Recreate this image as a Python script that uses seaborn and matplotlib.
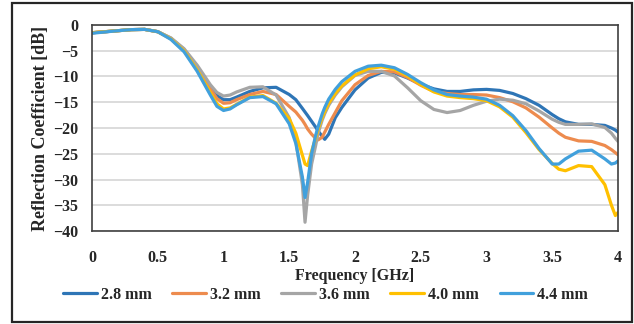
import matplotlib
matplotlib.use("Agg")
import matplotlib.pyplot as plt
from matplotlib.patches import Rectangle
import pandas as pd
import seaborn as sns

# Frequency sampling points [GHz]
freq = [0.0, 0.1, 0.2, 0.3, 0.4, 0.5, 0.6, 0.7, 0.8, 0.85, 0.9, 0.95, 1.0, 1.05,
        1.1, 1.2, 1.3, 1.4, 1.5, 1.55, 1.6, 1.62, 1.64, 1.67, 1.7, 1.72, 1.75,
        1.77, 1.8, 1.85, 1.9, 2.0, 2.1, 2.2, 2.3, 2.4, 2.5, 2.6, 2.7, 2.8, 2.9,
        3.0, 3.1, 3.2, 3.3, 3.4, 3.5, 3.55, 3.6, 3.7, 3.8, 3.9, 3.95, 3.98, 4.0]

# Reflection coefficient [dB] for each substrate thickness
s11_28 = [-1.5, -1.3, -1.1, -0.9, -0.85, -1.3, -2.6, -4.8, -8.2, -10.1, -12.0, -13.7,
          -14.5, -14.5, -14.0, -12.9, -12.2, -12.1, -13.5, -14.5, -16.2, -16.9, -17.6,
          -18.7, -19.8, -20.6, -21.6, -22.2, -21.2, -18.0, -16.0, -12.6, -10.3, -9.2,
          -9.3, -10.3, -11.5, -12.4, -12.9, -12.9, -12.6, -12.5, -12.7, -13.3, -14.3,
          -15.6, -17.4, -18.2, -18.8, -19.3, -19.3, -19.5, -20.0, -20.4, -20.8]
s11_32 = [-1.5, -1.3, -1.1, -0.9, -0.85, -1.3, -2.6, -4.8, -8.3, -10.4, -12.4, -14.3,
          -15.2, -15.1, -14.5, -13.5, -12.9, -13.5, -15.8, -16.9, -18.5, -19.3, -20.2,
          -21.2, -22.0, -22.3, -21.8, -20.8, -19.3, -17.0, -14.7, -11.6, -9.8, -9.0,
          -9.1, -10.2, -11.7, -12.9, -13.3, -13.5, -13.5, -13.6, -14.1, -14.9, -16.1,
          -17.9, -20.0, -21.0, -21.8, -22.5, -22.6, -23.4, -24.2, -24.8, -25.2]
s11_36 = [-1.5, -1.3, -1.1, -0.9, -0.85, -1.3, -2.5, -4.6, -7.8, -9.7, -11.6, -13.1,
          -13.8, -13.6, -13.0, -12.1, -12.0, -13.6, -18.0, -22.5, -31.0, -38.3, -33.0,
          -27.0, -23.5, -21.0, -18.5, -17.2, -15.6, -13.6, -12.0, -9.8, -9.0, -9.0,
          -9.9, -12.2, -14.7, -16.4, -17.0, -16.6, -15.6, -14.8, -14.4, -14.6, -15.3,
          -16.7, -18.3, -18.9, -19.3, -19.3, -19.2, -19.9, -21.0, -22.0, -22.6]
s11_40 = [-1.5, -1.3, -1.1, -0.9, -0.85, -1.3, -2.7, -5.0, -8.7, -10.9, -13.1, -15.3,
          -16.3, -16.1, -15.4, -14.0, -13.7, -15.2, -18.2, -21.0, -25.3, -27.0, -27.3,
          -24.5, -22.0, -20.2, -18.0, -16.8, -15.2, -13.3, -11.8, -9.7, -8.5, -8.1,
          -8.6, -9.9, -11.6, -13.0, -13.8, -14.1, -14.3, -14.7, -15.9, -17.9, -20.9,
          -24.2, -26.9, -28.0, -28.3, -27.3, -27.5, -31.0, -35.0, -37.0, -36.4]
s11_44 = [-1.6, -1.35, -1.1, -0.9, -0.85, -1.3, -2.8, -5.2, -9.0, -11.3, -13.6, -15.8,
          -16.6, -16.3, -15.5, -14.1, -13.9, -15.3, -19.2, -23.0, -29.5, -33.5, -30.5,
          -25.0, -21.5, -19.7, -17.3, -16.0, -14.4, -12.5, -11.0, -9.0, -8.0, -7.8,
          -8.3, -9.6, -11.2, -12.6, -13.5, -13.8, -14.0, -14.4, -15.6, -17.6, -20.5,
          -24.0, -27.0, -27.0, -26.0, -24.5, -24.3, -26.0, -27.0, -26.8, -26.4]

labels = ["2.8 mm", "3.2 mm", "3.6 mm", "4.0 mm", "4.4 mm"]
colors = ["#2E75B6", "#ED8B4E", "#A5A5A5", "#FFC000", "#41A0DC"]
x_ticks = [0, 0.5, 1, 1.5, 2, 2.5, 3, 3.5, 4]
x_tick_labels = ["0", "0.5", "1", "1.5", "2", "2.5", "3", "3.5", "4"]
y_ticks = [0, -5, -10, -15, -20, -25, -30, -35, -40]

series = [s11_28, s11_32, s11_36, s11_40, s11_44]
df = pd.concat(
    [pd.DataFrame({"Frequency": freq, "S11": vals, "Thickness": lab})
     for vals, lab in zip(series, labels)],
    ignore_index=True,
)

sns.set_theme(style="white")
plt.rcParams["font.family"] = ["Liberation Serif", "DejaVu Serif"]
plt.rcParams["font.weight"] = "bold"

fig = plt.figure(figsize=(6.34, 3.24), dpi=100)
ax = fig.add_axes([92 / 634, 1 - 231 / 324, 526 / 634, 206 / 324])

sns.lineplot(data=df, x="Frequency", y="S11", hue="Thickness",
             hue_order=labels, palette=colors, linewidth=2.3,
             sort=False, estimator=None, ax=ax)

ax.set_xlim(0, 4)
ax.set_ylim(-40, 0)
ax.set_xticks(x_ticks)
ax.set_xticklabels(x_tick_labels)
ax.set_yticks(y_ticks)
ax.yaxis.grid(True, color="#D9D9D9", linewidth=1.3)
ax.xaxis.grid(False)
ax.set_axisbelow(True)
for sp in ax.spines.values():
    sp.set_color("#404040")
    sp.set_linewidth(1.2)
ax.tick_params(axis="both", length=0, labelsize=11.5, colors="#262626")
ax.tick_params(axis="x", pad=14)
ax.tick_params(axis="y", pad=10)
for t in ax.get_xticklabels() + ax.get_yticklabels():
    t.set_fontweight("bold")

ax.set_xlabel("Frequency [GHz]", fontsize=11.5, fontweight="bold",
              color="#262626", labelpad=1)
ax.set_ylabel("Reflection Coefficient [dB]", fontsize=13, fontweight="bold",
              color="#262626", labelpad=3)

leg = ax.legend(loc="center", bbox_to_anchor=(325.5 / 634, 1 - 295 / 324),
                bbox_transform=fig.transFigure, ncol=5, frameon=False,
                handlelength=2.1, handletextpad=0.25, columnspacing=1.3,
                prop={"family": "Liberation Serif", "weight": "bold", "size": 11.5})
for line in leg.get_lines():
    line.set_linewidth(2.3)

# Outer chart frame
fig.patches.append(Rectangle((12 / 634, 2 / 324), 620 / 634, 319 / 324,
                             transform=fig.transFigure, fill=False,
                             edgecolor="#262626", linewidth=1.6))

fig.savefig("out.png", dpi=100)
